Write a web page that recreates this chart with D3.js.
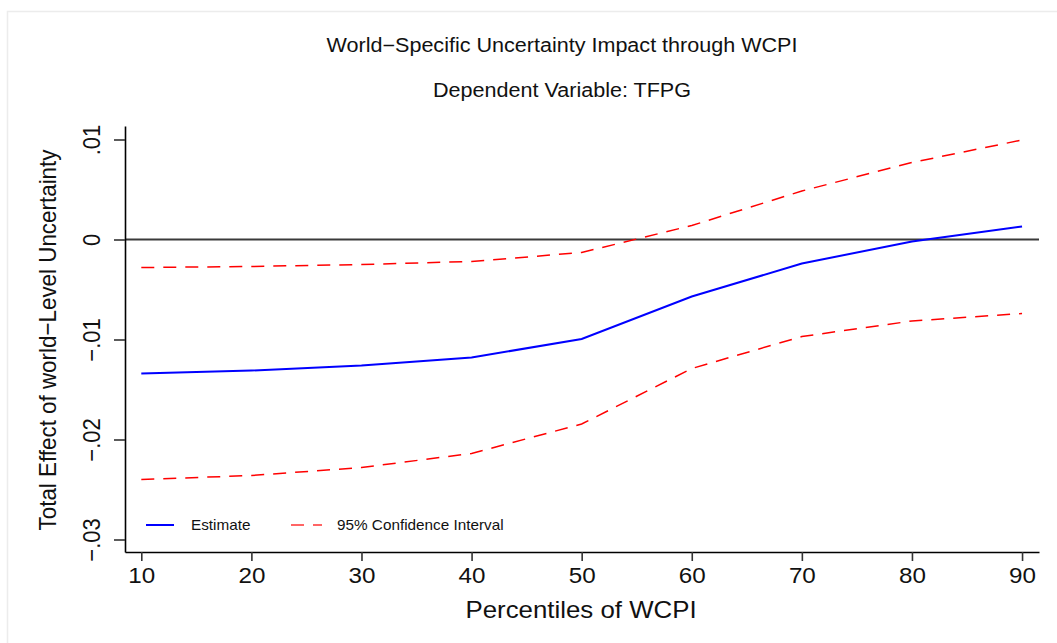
<!DOCTYPE html>
<html>
<head>
<meta charset="utf-8">
<script src="https://cdn.jsdelivr.net/npm/d3@7"></script>
<style>
 body { margin: 0; background: #fff; }
 svg { display: block; }
 text { font-family: "Liberation Sans", Arial, sans-serif; fill: #111; }
</style>
</head>
<body>
<svg width="1057" height="643"></svg>
<script>
const percentiles = [10, 20, 30, 40, 50, 60, 70, 80, 90];
const estimate = [-0.0134, -0.0131, -0.0126, -0.0118, -0.00995, -0.0057, -0.0024, -0.0002, 0.0013];
const upperCI = [-0.0028, -0.0027, -0.0025, -0.0022, -0.0013, 0.0014, 0.00485, 0.0077, 0.00995];
const lowerCI = [-0.0240, -0.0236, -0.0228, -0.0214, -0.01845, -0.0129, -0.0097, -0.00815, -0.0074];
const xTicks = [10, 20, 30, 40, 50, 60, 70, 80, 90];
const yTicks = [-0.03, -0.02, -0.01, 0, 0.01];
const yTickLabels = ["\u2212.03", "\u2212.02", "\u2212.01", "0", ".01"];

// Stata output is stretched horizontally a bit
const sx = 1.1;

const svg = d3.select("svg");

svg.append("path")
 .attr("d", "M7.5,643V11.5H1057")
 .attr("fill", "none")
 .attr("stroke", "#ececec")
 .attr("stroke-width", 1.5);

const plotLeft = 125, plotRight = 1039, plotTop = 126, plotBottom = 552;

const xScale = d3.scaleLinear().domain([8.52, 91.54]).range([plotLeft, plotRight]);
const yScale = d3.scaleLinear().domain([-0.03125, 0.01135]).range([plotBottom, plotTop]);

// zero line
svg.append("line")
 .attr("x1", plotLeft)
 .attr("x2", plotRight)
 .attr("y1", yScale(0))
 .attr("y2", yScale(0))
 .attr("stroke", "#3a3a3a")
 .attr("stroke-width", 2);

const xAxis = svg.append("g")
 .attr("transform", `translate(0,${plotBottom})`)
 .call(d3.axisBottom(xScale).tickValues(xTicks).tickSize(9).tickSizeOuter(0).tickFormat(d3.format("d")));

xAxis.select(".domain").attr("stroke", "#000").attr("stroke-width", 1.6);
xAxis.selectAll(".tick line").attr("stroke", "#333").attr("stroke-width", 1.6);
xAxis.selectAll(".tick text")
 .attr("y", null)
 .attr("dy", null)
 .attr("font-size", 22)
 .attr("font-family", "Liberation Sans, Arial, sans-serif")
 .attr("fill", "#111")
 .attr("transform", `translate(0,31) scale(${sx},1)`);

const yAxis = svg.append("g")
 .attr("transform", `translate(${plotLeft},0)`)
 .call(d3.axisLeft(yScale).tickValues(yTicks).tickSize(11).tickSizeOuter(0)
  .tickFormat((d, i) => yTickLabels[i]));

yAxis.select(".domain").attr("stroke", "#000").attr("stroke-width", 1.6);
yAxis.selectAll(".tick line").attr("stroke", "#333").attr("stroke-width", 1.6);
yAxis.selectAll(".tick text")
 .attr("x", null)
 .attr("dy", null)
 .attr("text-anchor", "middle")
 .attr("font-size", 22)
 .attr("font-family", "Liberation Sans, Arial, sans-serif")
 .attr("fill", "#111")
 .attr("transform", `translate(-25,0) rotate(-90) scale(1,${sx})`);

const line = d3.line()
 .x((d, i) => xScale(percentiles[i]))
 .y(d => yScale(d));

svg.append("path")
 .datum(upperCI)
 .attr("d", line)
 .attr("fill", "none")
 .attr("stroke", "#ff0000")
 .attr("stroke-width", 1.5)
 .attr("stroke-dasharray", "13,9");

svg.append("path")
 .datum(lowerCI)
 .attr("d", line)
 .attr("fill", "none")
 .attr("stroke", "#ff0000")
 .attr("stroke-width", 1.5)
 .attr("stroke-dasharray", "13,9");

svg.append("path")
 .datum(estimate)
 .attr("d", line)
 .attr("fill", "none")
 .attr("stroke", "#0000ff")
 .attr("stroke-width", 2);

// titles
const addText = (x, y, str, size, rot) => svg.append("text")
 .attr("transform", rot
  ? `translate(${x},${y}) rotate(-90) scale(1,${sx})`
  : `translate(${x},${y}) scale(${sx},1)`)
 .attr("text-anchor", "middle")
 .attr("font-size", size)
 .text(str);

addText(562, 52, "World\u2212Specific Uncertainty Impact through WCPI", 19.6);
addText(562, 97, "Dependent Variable: TFPG", 19.6);
addText(581, 618, "Percentiles of WCPI", 23.5);
addText(56, 340, "Total Effect of world\u2212Level Uncertainty", 22.4, true);

// legend
const legend = svg.append("g");
legend.append("line")
 .attr("x1", 146).attr("x2", 174)
 .attr("y1", 525).attr("y2", 525)
 .attr("stroke", "#0000ff")
 .attr("stroke-width", 2);
legend.append("line")
 .attr("x1", 291).attr("x2", 322)
 .attr("y1", 525).attr("y2", 525)
 .attr("stroke", "#ff3333")
 .attr("stroke-width", 1.5)
 .attr("stroke-dasharray", "13,9");
legend.append("text")
 .attr("transform", `translate(191,530) scale(${sx},1)`)
 .attr("font-size", 13.9)
 .text("Estimate");
legend.append("text")
 .attr("transform", `translate(337,530) scale(${sx},1)`)
 .attr("font-size", 13.9)
 .text("95% Confidence Interval");
</script>
</body>
</html>
